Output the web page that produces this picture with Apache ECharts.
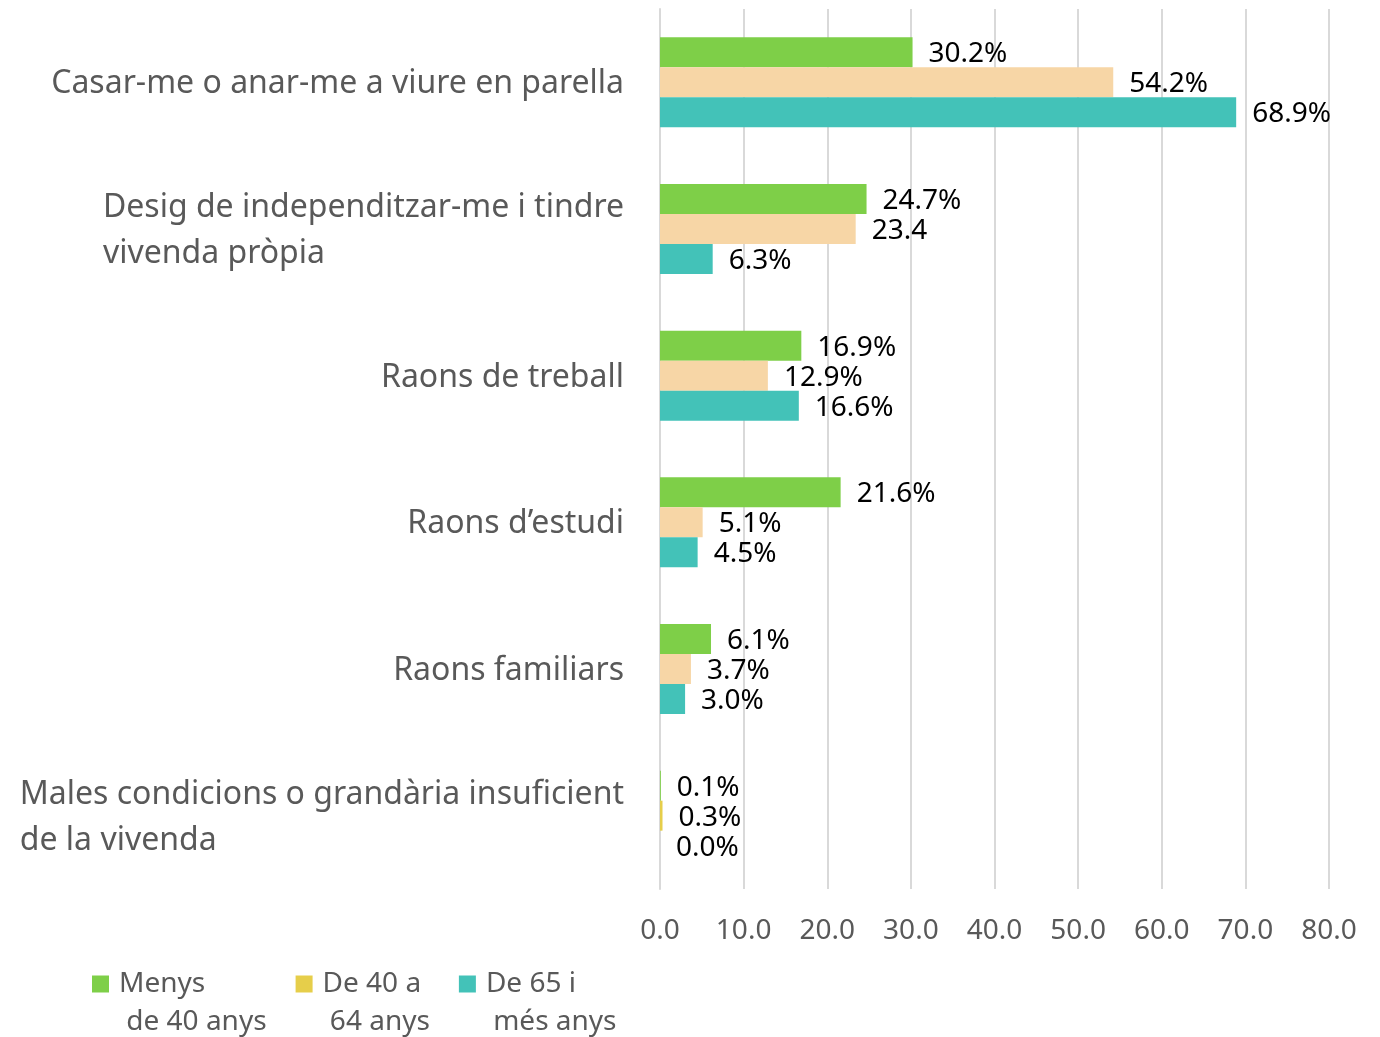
<!DOCTYPE html>
<html>
<head>
<meta charset="utf-8">
<script src="https://cdn.jsdelivr.net/npm/echarts@6/dist/echarts.min.js"></script>
<style>
  html, body { margin: 0; padding: 0; background: #fff; }
  #main { width: 1380px; height: 1037px; }
</style>
</head>
<body>
<div id="main"></div>
<script>
var categories = [
    'Casar-me o anar-me a viure en parella',
    'Desig de independitzar-me i tindre\nvivenda pròpia',
    'Raons de treball',
    'Raons d\u2019estudi',
    'Raons familiars',
    'Males condicions o grandària insuficient\nde la vivenda'
];
var seriesNames = ['Menys de 40 anys', 'De 40 a 64 anys', 'De 65 i més anys'];
var legendNames = ['Menys\n de 40 anys', 'De 40 a\n 64 anys', 'De 65 i\n més anys'];
var menys40 = [30.2, 24.7, 16.9, 21.6, 6.1, 0.1];
var de40a64 = [54.2, 23.4, 12.9, 5.1, 3.7, 0.3];
var de65 = [68.9, 6.3, 16.6, 4.5, 3.0, 0.0];
// etiquetes tal com surten al grafic original (la de 23.4 no porta %)
var labels40 = ['54.2%', '23.4', '12.9%', '5.1%', '3.7%', '0.3%'];
var xTicks = { min: 0, max: 80, interval: 10 };

var green = '#7ECF48';
var peach = '#F7D6A6';
var yellow = '#E6CE4A';
var teal = '#43C2B8';
var font = 'Noto Sans';

function valLabel(p) {
    if (p.seriesIndex == 1) return labels40[p.dataIndex];
    return p.value.toFixed(1) + '%';
}

var labelStyle = {
    show: true,
    position: 'right',
    distance: 16,
    offset: [0, 2],
    color: '#000',
    fontSize: 28,
    fontFamily: font,
    formatter: valLabel
};

var myChart = echarts.init(document.getElementById('main'));

var option = {
    backgroundColor: '#fff',
    animation: false,
    grid: {
        left: 660,
        right: 51,
        top: 9,
        bottom: 148
    },
    legend: {
        left: 92,
        top: 927,
        padding: 0,
        itemGap: 29,
        itemWidth: 17,
        itemHeight: 17,
        icon: 'rect',
        data: seriesNames,
        formatter: function (name) {
            // linia buida al davant: la icona queda a l'altura de la primera linia
            return '\n' + legendNames[seriesNames.indexOf(name)];
        },
        textStyle: {
            color: '#595959',
            fontSize: 28,
            fontFamily: font,
            lineHeight: 38,
            padding: [0, 0, 0, 5]
        }
    },
    xAxis: {
        type: 'value',
        min: xTicks.min,
        max: xTicks.max,
        interval: xTicks.interval,
        axisLine: { show: false },
        axisTick: { show: false },
        axisLabel: {
            color: '#595959',
            fontSize: 28,
            fontFamily: font,
            margin: 28,
            formatter: function (v) { return v.toFixed(1); }
        },
        splitLine: {
            show: true,
            lineStyle: { color: '#D9D9D9', width: 2 }
        }
    },
    yAxis: {
        type: 'category',
        inverse: true,
        data: categories,
        axisLine: { show: true, lineStyle: { color: '#D9D9D9', width: 2 } },
        axisTick: { show: false },
        axisLabel: {
            margin: 36,
            align: 'right',
            padding: [4, 0, 0, 0],
            formatter: function (v) {
                return v.split('\n').map(function (s) { return '{a|' + s + '}'; }).join('\n');
            },
            rich: {
                a: {
                    align: 'left',
                    color: '#595959',
                    fontSize: 32,
                    fontFamily: font,
                    lineHeight: 46
                }
            }
        }
    },
    series: [
        {
            name: seriesNames[0],
            type: 'bar',
            barWidth: 30,
            barGap: '0%',
            itemStyle: { color: green },
            label: labelStyle,
            data: menys40
        },
        {
            name: seriesNames[1],
            type: 'bar',
            barWidth: 30,
            barGap: '0%',
            itemStyle: { color: yellow },
            label: labelStyle,
            data: de40a64.map(function (v, i) {
                // al grafic original nomes la barra petita de l'ultima categoria es groga
                return { value: v, itemStyle: { color: i == 5 ? yellow : peach } };
            })
        },
        {
            name: seriesNames[2],
            type: 'bar',
            barWidth: 30,
            barGap: '0%',
            itemStyle: { color: teal },
            label: labelStyle,
            data: de65
        }
    ]
};

myChart.setOption(option);
</script>
</body>
</html>
